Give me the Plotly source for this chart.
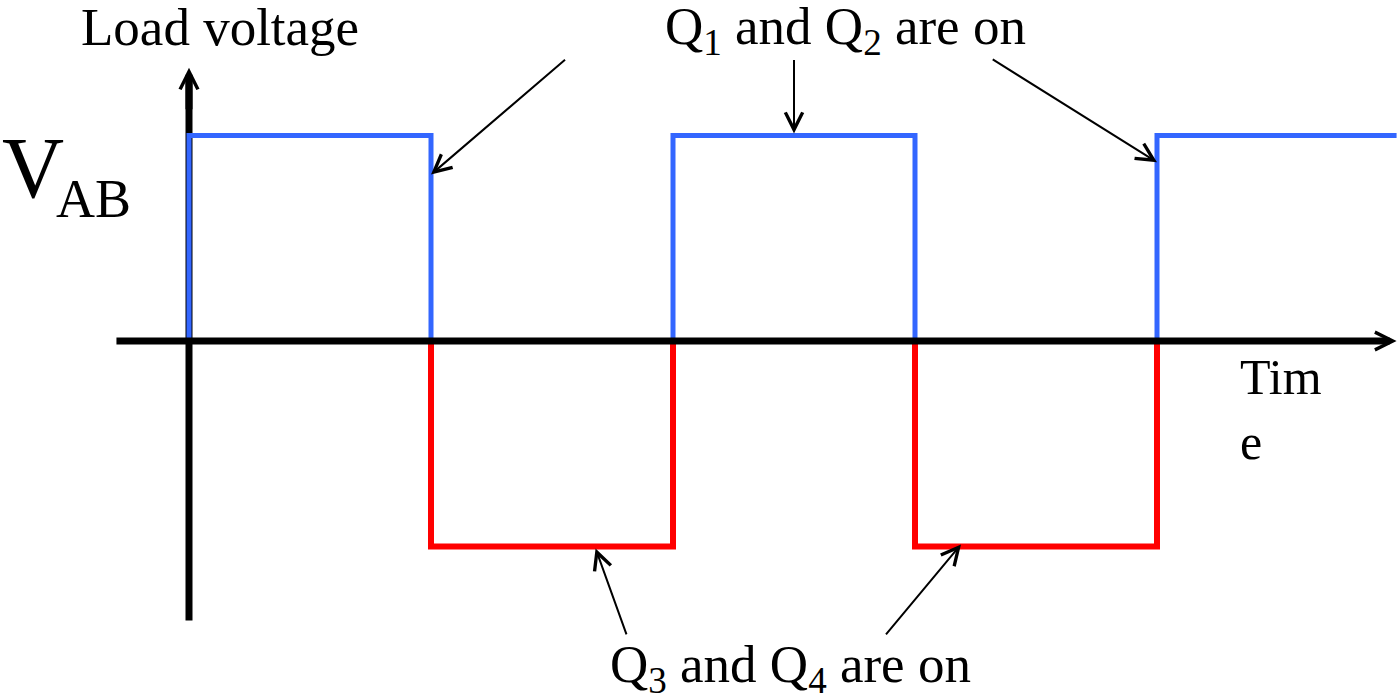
import plotly.graph_objects as go

# ---- data (time in half-periods, voltage normalised to Vdc) ----
edge_times = [0, 1, 2, 3, 4, 5]          # switching instants
levels = [1, -1, 1, -1, 1]               # level held after each edge
end_time = 4.99

blue_color = "#3366ff"
red_color = "#ff0000"

# build step segments from data
bx, by, rx, ry = [], [], [], []
for i, lv in enumerate(levels):
    t0 = edge_times[i]
    t1 = edge_times[i + 1] if i + 1 < len(edge_times) else end_time
    t1 = min(t1, end_time)
    if lv > 0:
        if i == len(levels) - 1:
            bx += [t0, t0, t1, None]
            by += [0, lv, lv, None]
        else:
            bx += [t0, t0, t1, t1, None]
            by += [0, lv, lv, 0, None]
    else:
        rx += [t0, t0, t1, t1, None]
        ry += [0, lv, lv, 0, None]

# axis extents (data units)
x_axis_start, x_axis_end = -0.306, 4.99
y_axis_bottom, y_axis_top = -1.36, 1.33

# annotation arrows: (tail_t, tail_v, tip_t, tip_v)
arrows_top = [(1.56, 1.375, 1.0, 0.81), (2.5, 1.375, 2.5, 1.01), (3.315, 1.375, 4.0, 0.87)]
arrows_bottom = [(1.81, -1.435, 1.68, -1.01), (2.875, -1.435, 3.19, -0.99)]

fig = go.Figure()

# y axis line (below waveform)
fig.add_trace(go.Scatter(x=[0, 0], y=[y_axis_bottom, y_axis_top - 0.05], mode="lines",
                         line=dict(color="black", width=7), hoverinfo="skip"))
fig.add_trace(go.Scatter(x=bx, y=by, mode="lines", line=dict(color=blue_color, width=5),
                         hoverinfo="skip"))
fig.add_trace(go.Scatter(x=rx, y=ry, mode="lines", line=dict(color=red_color, width=6),
                         hoverinfo="skip"))

ann = []
# x axis (drawn on top)
ann.append(dict(x=x_axis_end, y=0, ax=x_axis_start, ay=0, xref="x", yref="y",
                axref="x", ayref="y", text="", showarrow=True, arrowhead=5,
                arrowsize=0.5, arrowwidth=7, arrowcolor="black"))
# y axis head
ann.append(dict(x=0, y=y_axis_top, ax=0, ay=1.12, xref="x", yref="y",
                axref="x", ayref="y", text="", showarrow=True, arrowhead=5,
                arrowsize=0.5, arrowwidth=7, arrowcolor="black"))
for (ta, va, tt, vt) in arrows_top + arrows_bottom:
    ann.append(dict(x=tt, y=vt, ax=ta, ay=va, xref="x", yref="y", axref="x", ayref="y",
                    text="", showarrow=True, arrowhead=5, arrowsize=1.7, arrowwidth=2,
                    arrowcolor="black"))

font = dict(family="Liberation Serif", size=53, color="black")
W, H = 1400, 700


def px(x):
    return x / W


def py(y):
    return 1 - y / H


ann.append(dict(text="Load voltage", x=px(220), y=py(27), xref="paper", yref="paper",
                showarrow=False, xanchor="center", yanchor="middle", font=font))
ann.append(dict(text="Q<sub>1</sub> and Q<sub>2</sub> are on", x=px(845), y=py(30),
                xref="paper", yref="paper", showarrow=False, xanchor="center",
                yanchor="middle", font=font))
ann.append(dict(text="Q<sub>3</sub> and Q<sub>4</sub> are on", x=px(790), y=py(668),
                xref="paper", yref="paper", showarrow=False, xanchor="center",
                yanchor="middle", font=font))
ann.append(dict(text="Tim<br>e", x=px(1238), y=py(347), xref="paper", yref="paper",
                showarrow=False, xanchor="left", yanchor="top", align="left",
                font=dict(family="Liberation Serif", size=50, color="black")))
ann.append(dict(text="V", x=px(0), y=py(168), xref="paper", yref="paper",
                showarrow=False, xanchor="left", yanchor="middle",
                font=dict(family="Liberation Serif", size=86, color="black")))
ann.append(dict(text="AB", x=px(54), y=py(199), xref="paper", yref="paper",
                showarrow=False, xanchor="left", yanchor="middle",
                font=dict(family="Liberation Serif", size=54, color="black")))

fig.update_layout(
    width=W, height=H, autosize=False,
    margin=dict(l=0, r=0, t=0, b=0),
    paper_bgcolor="white", plot_bgcolor="white",
    showlegend=False,
    xaxis=dict(range=[-189 / 242, 1211 / 242], visible=False, fixedrange=True),
    yaxis=dict(range=[-359 / 205.5, 341 / 205.5], visible=False, fixedrange=True),
    annotations=ann,
)

fig.write_html("out.html", config={"displayModeBar": False},
               post_script="document.body.style.margin='0px';")
